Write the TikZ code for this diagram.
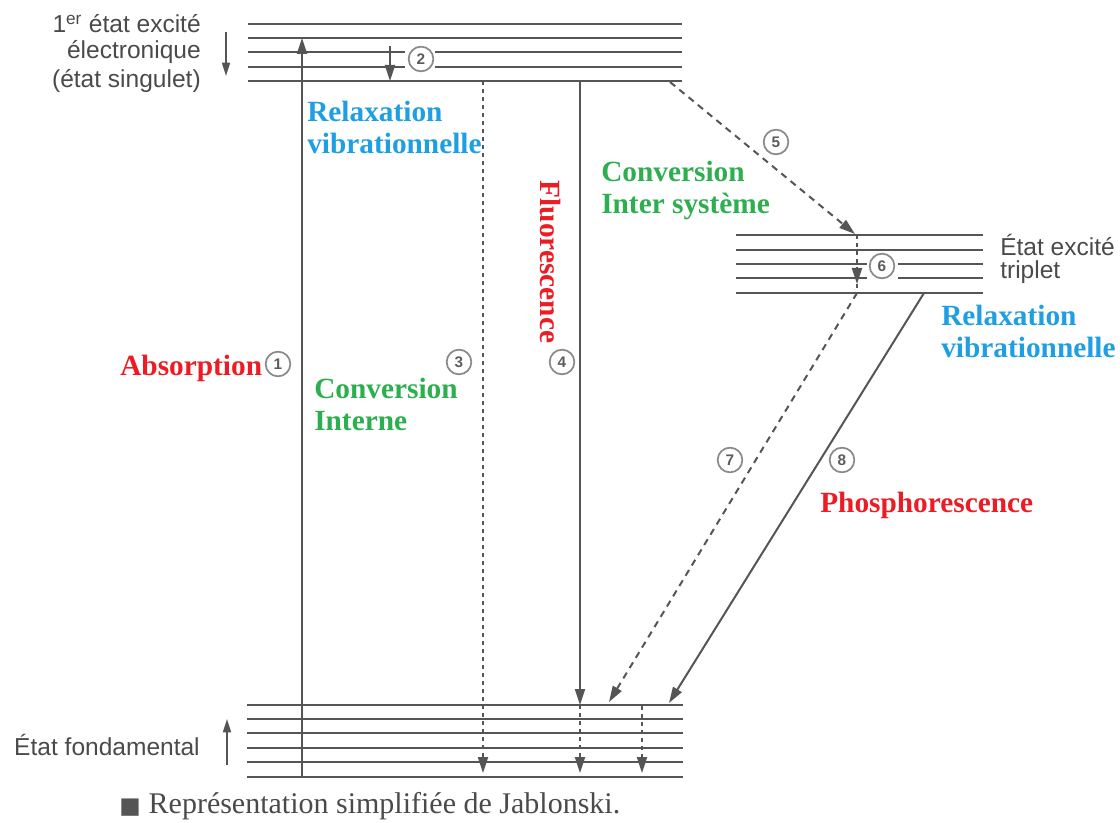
\documentclass[tikz,border=0pt]{standalone}
\usepackage{fontspec}
\setmainfont{Liberation Serif}
\newfontfamily\arialf{Liberation Sans}
\newfontfamily\dejavu{DejaVu Sans}
\usetikzlibrary{arrows.meta}
\definecolor{lvl}{HTML}{555555}
\definecolor{lbl}{HTML}{4A4A4A}
\definecolor{cblue}{HTML}{1E9FE3}
\definecolor{cred}{HTML}{EC1C24}
\definecolor{cgreen}{HTML}{2DAF4F}
\definecolor{numc}{HTML}{8A8A8A}
\begin{document}
\begin{tikzpicture}[x=0.75pt,y=-0.75pt,
  level/.style={draw=lvl, line width=1.5pt},
  tip/.style={-{Triangle[length=12pt,width=7.5pt]}},
  solidarrow/.style={draw=lvl, line width=1.5pt, tip},
  dotarrow/.style={draw=lvl, line width=1.5pt, dash pattern=on 3pt off 3pt, tip},
  dasharrow/.style={draw=lvl, line width=1.5pt, dash pattern=on 5pt off 4pt, tip},
  dotline/.style={draw=lvl, line width=1.5pt, dash pattern=on 3pt off 3pt},
  numcirc/.style={circle, draw=numc, line width=1.3pt, minimum size=18.5pt, inner sep=0pt,
    font=\arialf\bfseries\fontsize{11.5}{11.5}\selectfont, text=lbl!90},
  graylbl/.style={font=\arialf\fontsize{18.4}{21.4}\selectfont, text=lbl, inner sep=0pt},
  colorlbl/.style={font=\bfseries\fontsize{22}{24}\selectfont, inner sep=0pt, align=left}
]
\useasboundingbox (0,0) rectangle (1120,823);

% ---------- singlet levels ----------
\foreach \y in {24,38,81} \draw[level] (248,\y) -- (682,\y);
\foreach \y in {52,67} {\draw[level] (248,\y) -- (405,\y); \draw[level] (435,\y) -- (682,\y);}

% ---------- triplet levels ----------
\foreach \y in {235,250,293} \draw[level] (736,\y) -- (983,\y);
\foreach \y in {264,278} {\draw[level] (736,\y) -- (867,\y); \draw[level] (898,\y) -- (983,\y);}

% ---------- ground levels ----------
\foreach \y in {705,719,733,748,762,777} \draw[level] (247,\y) -- (683,\y);

% ---------- coordinates ----------
\coordinate (abs0) at (302,777);
\coordinate (abs1) at (302,38);
\coordinate (r2a) at (390,46);
\coordinate (r2b) at (390,81);
\coordinate (ic0) at (483,81);
\coordinate (ic1) at (483,773);
\coordinate (fl0) at (580,81);
\coordinate (fl1) at (580,705);
\coordinate (fl2) at (580,773);
\coordinate (v3a) at (642,706);
\coordinate (v3b) at (642,773);
\coordinate (isc0) at (670,82);
\coordinate (isc1) at (855,234);
\coordinate (r6a) at (857,235);
\coordinate (r6b) at (857,284);
\coordinate (t0) at (857,293);
\coordinate (p7) at (609,702);
\coordinate (ph0) at (924,293);
\coordinate (ph1) at (669,703);
\coordinate (sa0) at (226,32);
\coordinate (sa1) at (226,76);
\coordinate (ga0) at (227,765);
\coordinate (ga1) at (227,719);

% ---------- transitions ----------
\draw[solidarrow] (abs0) -- (abs1);
\draw[solidarrow] (r2a) -- (r2b);
\draw[dotarrow] (ic0) -- (ic1);
\draw[solidarrow] (fl0) -- (fl1);
\draw[dotarrow] (fl1) -- (fl2);
\draw[dotarrow] (v3a) -- (v3b);
\draw[dasharrow] (isc0) -- (isc1);
\draw[dotarrow] (r6a) -- (r6b);
\draw[dotline] (r6b) -- (t0);
\draw[dasharrow] (t0) -- (p7);
\draw[solidarrow] (ph0) -- (ph1);
\draw[line width=1.3pt, draw=lvl, -{Triangle[length=10pt,width=6pt]}] (sa0) -- (sa1);
\draw[line width=1.3pt, draw=lvl, -{Triangle[length=10pt,width=6pt]}] (ga0) -- (ga1);

% ---------- circled numbers ----------
\node[numcirc] (n1) at (278,364) {1};
\node[numcirc] (n2) at (421,59) {2};
\node[numcirc] (n3) at (459,362) {3};
\node[numcirc] (n4) at (562,362) {4};
\node[numcirc] (n5) at (776,142) {5};
\node[numcirc] (n6) at (882,266) {6};
\node[numcirc] (n7) at (730,460) {7};
\node[numcirc] (n8) at (842,460) {8};

% ---------- gray labels ----------
\node[graylbl, anchor=east] (s1) at (201,24) {1\textsuperscript{er} état excité};
\node[graylbl, anchor=east] (s2) at (201,52) {électronique};
\node[graylbl, anchor=east] (s3) at (201,81) {(état singulet)};
\node[graylbl, anchor=west] (t1) at (1000,245) {État excité};
\node[graylbl, anchor=west] (t2) at (1000,272) {triplet};
\node[graylbl, anchor=east] (gnd) at (200,745) {État fondamental};

% ---------- colored labels ----------
\node[colorlbl, text=cblue, anchor=north west] (rv1) at (307,101) {Relaxation\\vibrationnelle};
\node[colorlbl, text=cgreen, anchor=north west] (cis) at (601,161) {Conversion\\Inter système};
\node[colorlbl, text=cred, rotate=-90] (fluo) at (550,262) {Fluorescence};
\node[colorlbl, text=cred, anchor=west] (absl) at (120,368) {Absorption};
\node[colorlbl, text=cgreen, anchor=north west] (ci) at (314,378) {Conversion\\Interne};
\node[colorlbl, text=cblue, anchor=north west] (rv2) at (941,305) {Relaxation\\vibrationnelle};
\node[colorlbl, text=cred, anchor=west] (phos) at (820,505) {Phosphorescence};

% ---------- caption ----------
\node[anchor=west, inner sep=0pt, font=\fontsize{22.5}{24}\selectfont, text=lbl] (cap) at (119,806)
  {{\dejavu\fontsize{17}{17}\selectfont\color{lvl}■}\hspace{6pt}Représentation simplifiée de Jablonski.};
\end{tikzpicture}
\end{document}
